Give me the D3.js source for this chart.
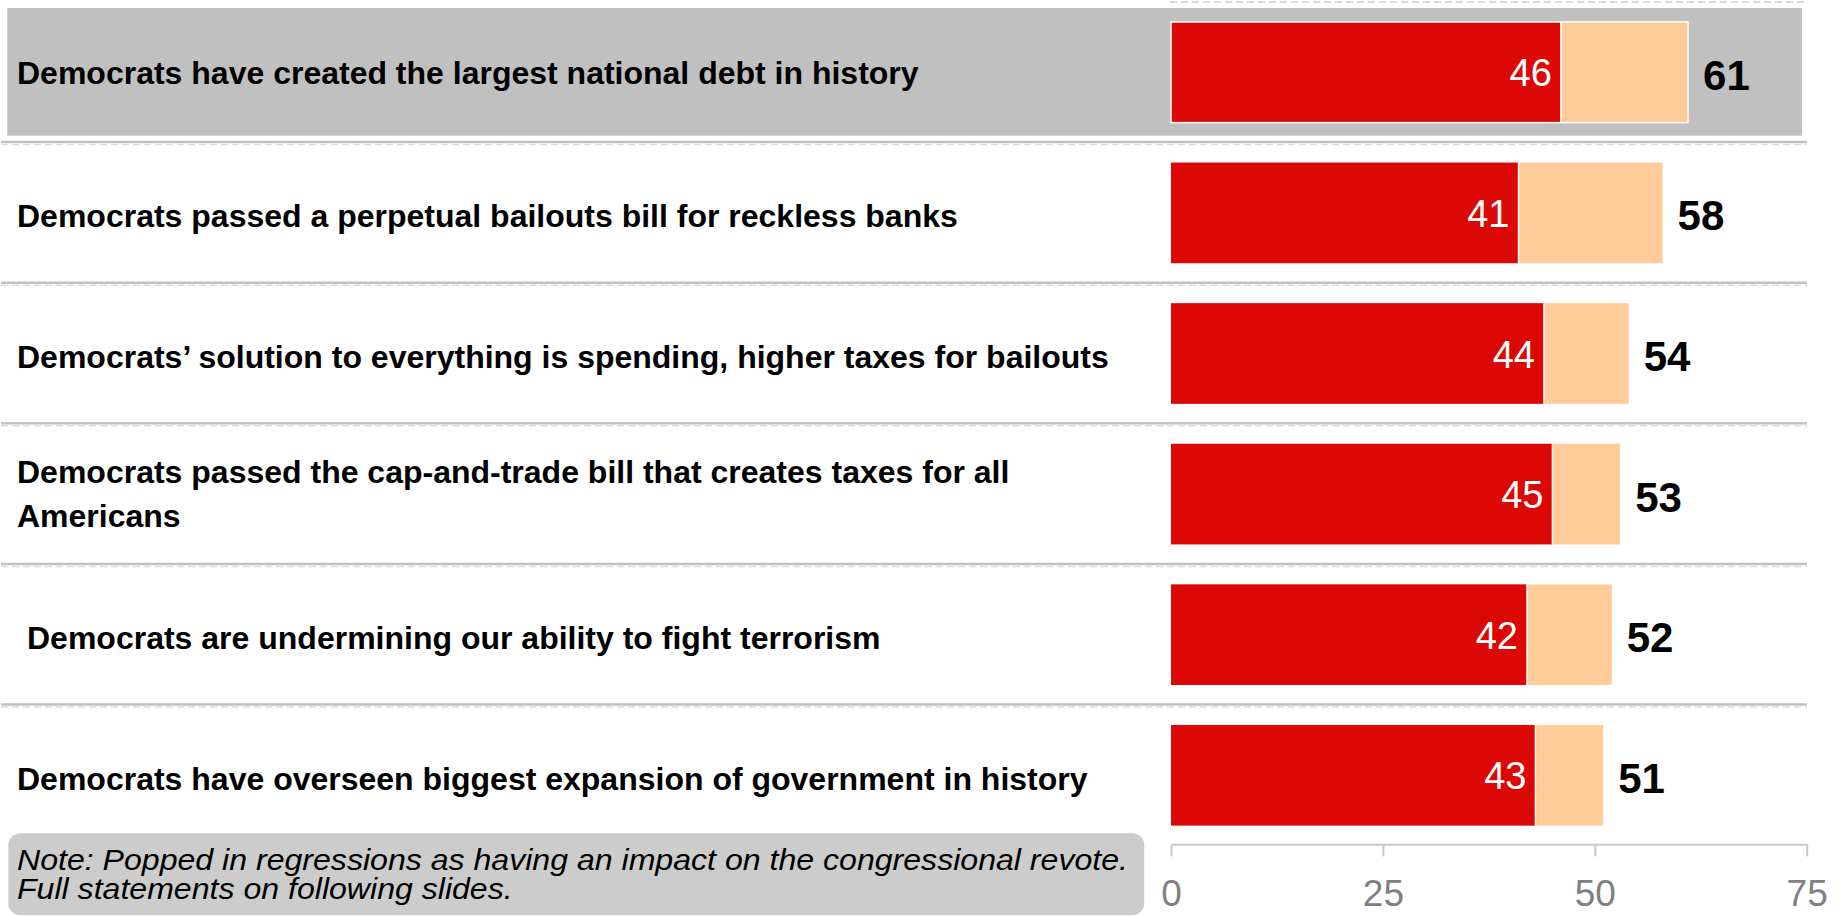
<!DOCTYPE html>
<html>
<head>
<meta charset="utf-8">
<script src="https://cdn.jsdelivr.net/npm/d3@7"></script>
<style>
  html, body { margin: 0; padding: 0; background: #ffffff; }
  svg { display: block; font-family: "Liberation Sans", Arial, sans-serif; }
</style>
</head>
<body>
<svg id="chart" width="1839" height="916"></svg>
<script>
// ---- data ----
const categories = [
  "Democrats have created the largest national debt in history",
  "Democrats passed a perpetual bailouts bill for reckless banks",
  "Democrats\u2019 solution to everything is spending, higher taxes for bailouts",
  "Democrats passed the cap-and-trade bill that creates taxes for all\nAmericans",
  "Democrats are undermining our ability to fight terrorism",
  "Democrats have overseen biggest expansion of government in history"
];
const strongValues = [46, 41, 44, 45, 42, 43];
const totalValues = [61, 58, 54, 53, 52, 51];
const tickValues = [0, 25, 50, 75];
const noteLines = [
  "Note: Popped in regressions as having an impact on the congressional revote.",
  "Full statements on following slides."
];

// ---- layout ----
const svg = d3.select("#chart");
const x = d3.scaleLinear().domain([0, 75]).range([1171, 1806.7]);
const y = d3.scaleBand().domain(d3.range(categories.length))
  .range([2, 2 + 6 * 140.6]).paddingInner(0.284).paddingOuter(0.142);
const step = y.step(), bw = y.bandwidth();
const RED = "#DC0806", PEACH = "#FFCC99";

const rows = categories.map((c, i) => ({ label: c, strong: strongValues[i], total: totalValues[i], i }));

// highlight band for first row
svg.append("rect")
  .attr("x", 7.3).attr("y", 8).attr("width", 1802 - 7.3).attr("height", 135.7 - 8)
  .attr("fill", "#C0C0C0");

// top dashed line
svg.append("line")
  .attr("x1", 1170).attr("x2", 1807).attr("y1", 2).attr("y2", 2)
  .attr("stroke", "#D9D9D9").attr("stroke-width", 2).attr("stroke-dasharray", "7,4");

// separators
rows.slice(0, rows.length - 1).forEach(d => {
  const sy = y(d.i) + bw + step * 0.142 - 0.5;
  svg.append("line")
    .attr("x1", 1).attr("x2", 1807).attr("y1", sy).attr("y2", sy)
    .attr("stroke", "#C2C2C2").attr("stroke-width", 2.5);
  svg.append("line")
    .attr("x1", 1).attr("x2", 1807).attr("y1", sy + 2.5).attr("y2", sy + 2.5)
    .attr("stroke", "#DEDEDE").attr("stroke-width", 1.5).attr("stroke-dasharray", "7,4");
});

// bars
const g = svg.append("g");
g.selectAll("rect.strong").data(rows).join("rect")
  .attr("class", "strong")
  .attr("x", x(0)).attr("y", d => y(d.i))
  .attr("width", d => x(d.strong) - x(0)).attr("height", bw)
  .attr("fill", RED);
g.selectAll("rect.rest").data(rows).join("rect")
  .attr("class", "rest")
  .attr("x", d => x(d.strong)).attr("y", d => y(d.i))
  .attr("width", d => x(d.total) - x(d.strong)).attr("height", bw)
  .attr("fill", PEACH);
// white divider between segments
g.selectAll("line.div").data(rows).join("line")
  .attr("class", "div")
  .attr("x1", d => x(d.strong)).attr("x2", d => x(d.strong))
  .attr("y1", d => y(d.i)).attr("y2", d => y(d.i) + bw)
  .attr("stroke", "#ffffff").attr("stroke-width", 1.5);
// white outline on highlighted row
g.append("rect")
  .attr("x", x(0)).attr("y", y(0))
  .attr("width", x(totalValues[0]) - x(0)).attr("height", bw)
  .attr("fill", "none").attr("stroke", "#ffffff").attr("stroke-width", 1.5);

// value labels inside red
g.selectAll("text.sv").data(rows).join("text")
  .attr("class", "sv")
  .attr("x", d => x(d.strong) - 9)
  .attr("y", d => y(d.i) + bw / 2 + 14)
  .attr("text-anchor", "end")
  .attr("font-size", 38).attr("fill", "#ffffff")
  .text(d => d.strong);

// totals
g.selectAll("text.tv").data(rows).join("text")
  .attr("class", "tv")
  .attr("x", d => x(d.total) + 15)
  .attr("y", d => y(d.i) + bw / 2 + 17.5)
  .attr("font-size", 42).attr("font-weight", "bold").attr("fill", "#000000")
  .text(d => d.total);

// category labels
const lab = svg.append("g");
rows.forEach(d => {
  const lines = d.label.split("\n");
  const cy = y(d.i) + bw / 2 + (d.i === 0 ? 0 : (lines.length > 1 ? -1 : 3));
  const lh = 44;
  const lx = d.i === 4 ? 27 : 17;
  const t = lab.append("text")
    .attr("font-size", 32).attr("font-weight", "bold").attr("fill", "#000000");
  lines.forEach((ln, k) => {
    t.append("tspan")
      .attr("x", lx)
      .attr("y", cy + 11.5 + (k - (lines.length - 1) / 2) * lh)
      .text(ln);
  });
});

// axis
const axisY = 844.3;
const ax = svg.append("g")
  .attr("transform", `translate(0,${axisY})`)
  .call(d3.axisBottom(x).tickValues(tickValues).tickSize(12).tickSizeOuter(0));
ax.select(".domain").attr("stroke", "#C8C8C8").attr("stroke-width", 2);
ax.selectAll(".tick line").attr("stroke", "#C8C8C8").attr("stroke-width", 2);
ax.selectAll(".tick text")
  .attr("y", 61.5).attr("dy", null)
  .attr("font-size", 37).attr("fill", "#808080")
  .attr("font-family", "'Liberation Sans', Arial, sans-serif");

// note box
svg.append("rect")
  .attr("x", 8.3).attr("y", 833.3).attr("width", 1144.3 - 8.3).attr("height", 82)
  .attr("rx", 12).attr("ry", 12)
  .attr("fill", "#CCCCCC");
const nt = svg.append("text")
  .attr("transform", "translate(17,0) scale(1.07,1)")
  .attr("font-size", 30).attr("font-style", "italic").attr("fill", "#000000");
noteLines.forEach((ln, k) => {
  nt.append("tspan").attr("x", 0).attr("y", 870 + k * 29).text(ln);
});
</script>
</body>
</html>
